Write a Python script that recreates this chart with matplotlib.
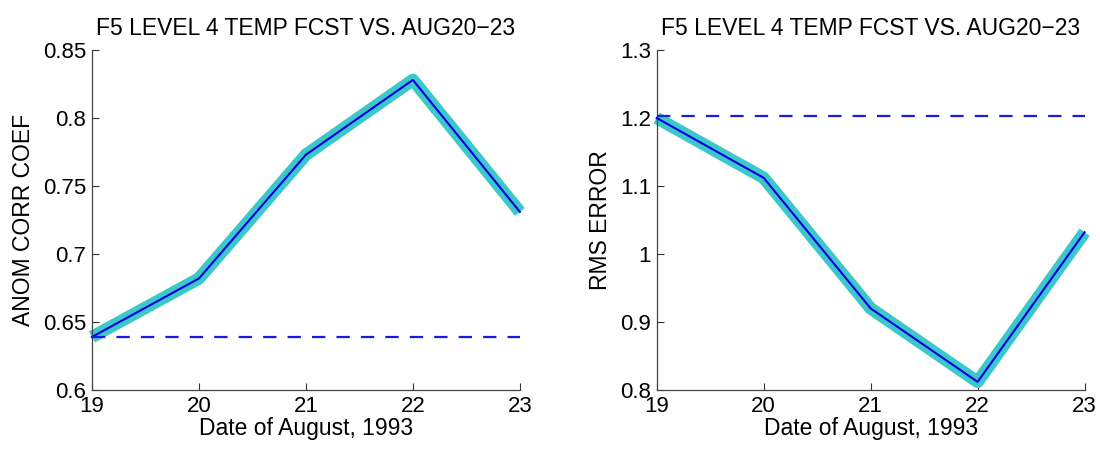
import numpy as np
import matplotlib.pyplot as plt

plt.rcParams['font.family'] = ['Liberation Sans', 'DejaVu Sans']

days = [19, 20, 21, 22, 23]
anom_corr = [0.639, 0.682, 0.773, 0.828, 0.731]
anom_ref = 0.639
rms_err = [1.200, 1.112, 0.920, 0.812, 1.032]
rms_ref = 1.203

title = 'F5 LEVEL 4 TEMP FCST VS. AUG20\u221223'

fig = plt.figure(figsize=(11, 4.5), dpi=100)
ax1 = fig.add_axes([0.0836, 0.1333, 0.389, 0.7556])
ax2 = fig.add_axes([0.597, 0.1333, 0.389, 0.7556])

panels = [
    (ax1, anom_corr, anom_ref, (0.6, 0.85), [0.6, 0.65, 0.7, 0.75, 0.8, 0.85],
     ['0.6', '0.65', '0.7', '0.75', '0.8', '0.85'], 'ANOM CORR COEF'),
    (ax2, rms_err, rms_ref, (0.8, 1.3), [0.8, 0.9, 1.0, 1.1, 1.2, 1.3],
     ['0.8', '0.9', '1', '1.1', '1.2', '1.3'], 'RMS ERROR'),
]

for ax, vals, ref, ylim, yt, ytl, ylab in panels:
    # thick cyan band with a thin blue line on top
    ax.plot(days, vals, color='#3cc8c8', lw=9, solid_joinstyle='round',
            solid_capstyle='butt', clip_on=False, zorder=2)
    ax.plot(days, vals, color='#0000e6', lw=1.5, clip_on=False, zorder=3)
    ax.plot([days[0], days[-1]], [ref, ref], color='#1a1ae6', lw=1.6,
            dashes=(6, 5), zorder=4)
    ax.set_xlim(days[0], days[-1])
    ax.set_ylim(*ylim)
    ax.set_xticks(days)
    ax.set_yticks(yt)
    ax.set_yticklabels(ytl)
    ax.tick_params(direction='in', length=5, labelsize=16, color='#333333', pad=4)
    for s in ['top', 'right']:
        ax.spines[s].set_visible(False)
    for s in ['left', 'bottom']:
        ax.spines[s].set_color('#444444')
        ax.spines[s].set_linewidth(0.9)
    ax.set_title(title, fontsize=16.5, pad=11)
    ax.set_xlabel('Date of August, 1993', fontsize=16.5, labelpad=0)
    ax.set_ylabel(ylab, fontsize=16.5, labelpad=6)

fig.savefig('out.png', dpi=100)
